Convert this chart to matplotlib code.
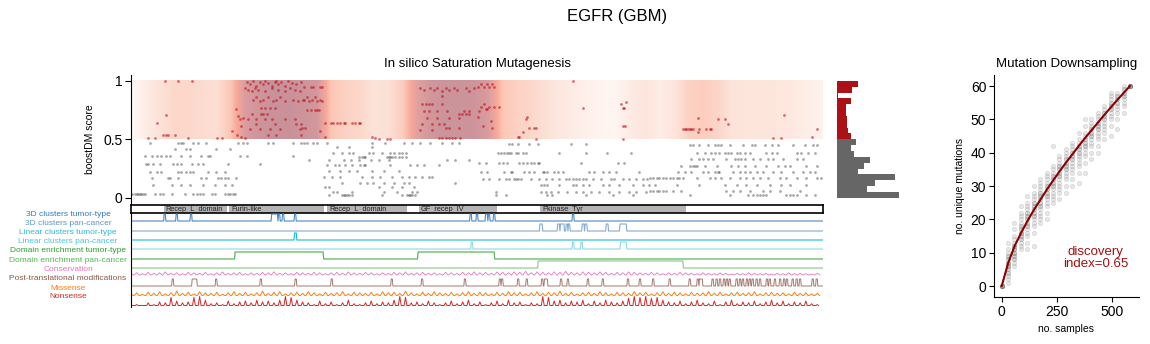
import numpy as np
import matplotlib
matplotlib.use("Agg")
import matplotlib.pyplot as plt
from matplotlib.colors import LinearSegmentedColormap

plt.rcParams['font.family'] = ['Liberation Sans', 'DejaVu Sans']

# ---------------- data ----------------
protein_len = 1210

# boostDM scores (score level, residues)
red_rows = [
    (1.0, [59, 82, 106, 214, 234, 254, 275, 772]),
    (0.99, [202, 225, 252, 263, 298]),
    (0.97, [208, 231, 257, 289]),
    (0.96, [219, 246, 269]),
    (0.98, [240, 281]),
    (0.95, [302, 314, 319, 331, 334, 606, 618, 626, 635]),
    (0.97, [612, 623, 632]),
    (0.94, [199, 217, 246, 278, 506, 523, 535, 550, 564, 585, 599]),
    (0.92, [205, 222, 257, 287, 512, 529, 556, 570]),
    (0.91, [212, 234, 269, 295, 544, 591]),
    (0.87, [544]),
    (0.86, [219, 240, 260, 308, 322]),
    (0.84, [214, 231, 254, 284, 301, 302, 316, 331]),
    (0.83, [225, 249, 269, 292, 311, 325, 334]),
    (0.82, [865]),
    (0.80, [509, 515, 521, 526, 544, 618, 857]),
    (0.78, [612, 626, 635, 644]),
    (0.77, [227, 234, 243, 252, 790, 860, 862]),
    (0.76, [184, 620, 623]),
    (0.75, [314, 325, 308, 322, 328]),
    (0.74, [512, 521, 535, 553, 582, 591, 609]),
    (0.72, [211, 228, 231, 237, 573, 579, 585, 591]),
    (0.71, [61, 1141]),
    (0.70, [187]),
    (0.69, [606, 693]),
    (0.68, [196, 518, 535, 556, 573, 992]),
    (0.67, [190, 205, 219, 234, 246, 269, 287, 690, 1027, 1038]),
    (0.66, [629]),
    (0.64, [45, 340, 349, 354, 360, 366, 372, 375, 386, 392, 398, 401]),
    (0.63, [219, 252, 289, 298, 509, 526, 538, 547, 1044]),
    (0.615, [193, 860, 864, 615]),
    (0.60, [305, 299, 550, 556, 573, 632, 696, 705, 708]),
    (0.59, [208, 225, 243, 260, 295, 965, 968, 971, 974, 977, 980, 983, 994, 1006, 1012, 1015, 1199]),
    (0.58, [506, 526]),
    (0.57, [177, 331]),
    (0.565, [992]),
    (0.56, [685]),
    (0.54, [240, 254, 298, 186]),
    (0.535, [56, 62, 65, 77]),
    (0.52, [193, 340, 421, 679, 676, 1190]),
    (0.515, [199, 538, 544, 550, 556, 561, 567, 576]),
    (0.51, [29, 42, 99, 151, 159, 427, 1123, 1136]),
    (0.50, [433, 448, 453, 708, 860]),
]

gray_rows = [
    (0.47, [33, 82, 88, 91, 109, 117, 132, 187, 196, 202, 240, 249, 284, 298, 302, 308, 319, 325, 343,
            421, 445, 477, 491, 506, 523, 544, 561, 573]),
    (0.46, [661, 667, 676, 696, 711, 769, 795]),
    (0.45, [977, 983, 994, 1009, 1021, 1027, 1032, 1047, 1070, 1085, 1091, 1108, 1120, 1131, 1158, 1178,
            1193, 1199]),
    (0.43, [360, 381, 421]),
    (0.42, [77, 97, 103, 149, 173]),
    (0.38, [354, 369, 381, 389, 416, 424, 439, 453, 459, 468, 474, 480, 641, 647, 653, 658, 661, 664, 673,
            676, 685, 690, 749, 795, 833, 874, 989, 1003, 1015, 1021, 1029, 1038, 1044, 1050, 1059, 1064,
            1073, 1082, 1111, 1120, 1129, 1164, 1172, 1184, 1196]),
    (0.36, [24, 36, 45, 53, 62, 68, 88, 103, 123, 135, 138, 190, 202, 284]),
    (0.35, [398, 404, 407, 410, 448, 451, 453, 456, 462, 468, 474, 480]),
    (0.33, [980, 994, 1000, 1009, 1018, 1041, 1056, 1061, 1067, 1073, 1088, 1099, 1114, 1123, 1140, 1164, 1175]),
    (0.32, [311, 346, 372, 384, 398, 419, 433, 451, 553, 567, 591]),
    (0.30, [609, 620, 644, 650, 658, 679, 685, 693, 699, 705, 711, 714, 787, 851, 862]),
    (0.29, [27, 30, 39, 50, 74, 80, 88, 106, 117, 126, 170, 225]),
    (0.28, [343, 357, 363, 375, 386, 401, 407, 410, 453, 488, 500, 512, 538]),
    (0.27, [962, 977, 983, 986, 989, 1003, 1024, 1050, 1061, 1073, 1091, 1111, 1131, 1143, 1152, 1181, 1199]),
    (0.23, [346, 366, 381, 395, 421, 442, 468]),
    (0.22, [33, 45, 52, 82, 88, 97, 103, 109, 135, 149, 164, 612, 623, 653, 664, 667, 688, 696, 705, 720,
            723, 728, 740, 746, 755, 801, 810, 825, 836, 848, 889, 957, 968, 980, 1000, 1009, 1021, 1027,
            1029, 1053, 1064, 1073, 1082, 1094, 1105, 1123, 1137, 1158, 1175, 1187, 1196]),
    (0.18, [337, 351, 366, 404, 421, 436, 456, 474, 486, 497, 509, 521, 526]),
    (0.17, [36, 65, 68, 82, 123, 132, 152, 158, 164, 170, 184, 907, 913, 919, 924, 930, 936, 942, 948, 954,
            959, 965, 989, 1012, 1021, 1032, 1047, 1064, 1076, 1088, 1099, 1114, 1134, 1146, 1164, 1181,
            1199, 1207]),
    (0.16, [615, 626, 644, 655, 661, 670, 673, 676, 682, 699, 714, 725, 737, 749, 760, 766, 772, 778, 784,
            790, 795, 807, 822, 839, 845, 860, 871, 883, 895, 903]),
    (0.13, [369, 401, 413, 424, 442, 459, 477, 486, 567]),
    (0.11, [39, 71, 88, 103, 126, 147, 164, 176, 717, 723, 728, 749, 772, 778, 790, 801, 825, 836, 854, 877,
            895, 906, 916, 954, 994, 1038, 1059, 1076, 1094, 1117, 1137, 1152, 1181]),
    (0.09, [340, 346, 433, 456, 474, 494]),
    (0.06, [907, 913, 919, 924, 930, 936, 948, 962, 1041, 1053, 1064, 1082, 1105, 1117, 1134, 1169]),
    (0.05, [638, 717, 725, 734, 746, 763, 778, 790, 804, 819, 836, 854, 871, 883, 900]),
    (0.045, [354, 360, 386, 442, 465, 491, 500]),
    (0.03, [2, 7, 10, 12, 15, 18, 21, 24, 42, 50, 56, 71, 94, 109, 115, 120, 126, 141, 147, 164, 170, 173,
            179, 182]),
    (0.02, [346, 369, 372, 375, 378, 381, 386, 439, 474, 483, 486, 488, 491, 497, 638, 655, 728, 737, 795,
            842, 877, 977, 1047, 1079, 1088, 1094, 1099, 1105, 1111, 1146, 1152, 1158, 1164, 1181, 1196]),
]

# background intensity of the driver-density shading (every 25 residues)
shade_profile = [0.05, 0.2, 0.3, 0.38, 0.38, 0.35, 0.33, 0.5, 0.85, 0.95, 1.0, 1.0, 0.97, 0.92, 0.5,
                 0.42, 0.38, 0.3, 0.32, 0.45, 0.78, 0.93, 0.98, 0.98, 0.96, 0.85, 0.5, 0.42, 0.38, 0.32,
                 0.25, 0.2, 0.15, 0.12, 0.12, 0.22, 0.28, 0.2, 0.28, 0.42, 0.45, 0.4, 0.3, 0.28, 0.28,
                 0.27, 0.25, 0.2, 0.15]

# histogram of scores (bins of 0.05 from 0 to 1)
hist_counts = [62, 30, 38, 58, 21, 27, 33, 17, 14, 19, 14, 11, 10, 10, 9, 9, 14, 1, 15, 21]

# Pfam domains
domain_names = ["Recep_L_domain", "Furin-like", "Recep_L_domain", "GF_recep_IV", "Pkinase_Tyr"]
domain_start = [57, 172, 343, 503, 716]
domain_end = [168, 338, 482, 640, 970]

# feature tracks
track_labels = ["3D clusters tumor-type", "3D clusters pan-cancer", "Linear clusters tumor-type",
                "Linear clusters pan-cancer", "Domain enrichment tumor-type", "Domain enrichment pan-cancer",
                "Conservation", "Post-translational modifications", "Missense", "Nonsense"]
label_colors = ["#2f7bbf", "#5b95c9", "#2fb9d2", "#4cc3d9", "#2ca02c", "#55b455",
                "#e377c2", "#8c564b", "#ff7f0e", "#d62728"]

clust3d_tumor = [(58, 60), (79, 81), (104, 106), (246, 256), (258, 260), (265, 267), (286, 288),
                 (593, 595), (604, 606), (620, 623), (625, 627), (634, 636), (772, 774)]
clust3d_pan = [(715, 719), (746, 749), (751, 753), (754, 757), (761, 763), (765, 767), (789, 792),
               (794, 797), (831, 834), (855, 866)]
linear_tumor = [(286, 289)]
linear_pan = [(595, 597), (772, 774), (787, 789), (856, 866)]
domain_tumor = [(182, 336), (502, 635)]
domain_pan = [(712, 965)]
ptm_sites = [73, 108, 111, 114, 149, 227, 288, 351, 456, 509, 584, 645, 649, 677, 692, 719, 724, 727, 752,
             764, 799, 825, 869, 890, 913, 942, 977, 991, 995, 998, 1017, 1024, 1030, 1037, 1042, 1047,
             1059, 1065, 1070, 1077, 1082, 1087, 1094, 1100, 1112, 1117, 1126, 1135, 1142, 1147, 1157,
             1164, 1170, 1192, 1199]

conservation = [0.4, 0.5, 0.3, 0.6, 0.4, 0.5, 0.7, 0.4, 0.5, 0.3, 0.6, 0.5, 0.4, 0.6, 0.3, 0.5, 0.7, 0.4, 0.5, 0.6,
                0.3, 0.5, 0.4, 0.6, 0.5, 0.7, 0.4, 0.5, 0.3, 0.6, 0.5, 0.4, 0.6, 0.5, 0.3, 0.5, 0.6, 0.4, 0.7, 0.5,
                0.4, 0.6, 0.5, 0.3, 0.5, 0.4, 0.6, 0.5, 0.7, 0.4, 0.5, 0.6, 0.4, 0.5, 0.3, 0.6, 0.5, 0.4, 0.6, 0.5,
                0.7, 0.5, 0.6, 0.4, 0.7, 0.6, 0.5, 0.7, 0.6, 0.8, 0.5, 0.7, 0.6, 0.5, 0.7, 0.6, 0.8, 0.6, 0.5, 0.7,
                0.6, 0.5, 0.7, 0.6, 0.4, 0.6, 0.5, 0.7, 0.6, 0.5, 0.4, 0.6, 0.5, 0.3, 0.5, 0.4, 0.6, 0.5, 0.4, 0.3,
                0.5, 0.4, 0.3, 0.5, 0.4, 0.2, 0.4, 0.3, 0.5, 0.4, 0.3, 0.4, 0.2, 0.4, 0.3, 0.5, 0.3, 0.4, 0.3, 0.2,
                0.4]
missense = [0.3, 0.5, 0.2, 0.6, 0.4, 0.7, 0.3, 0.5, 0.8, 0.4, 0.6, 0.3, 0.7, 0.5, 0.4, 0.6, 0.2, 0.5, 0.7, 0.4,
            0.6, 0.3, 0.5, 0.8, 0.4, 0.6, 0.7, 0.3, 0.5, 0.6, 0.4, 0.7, 0.5, 0.3, 0.6, 0.4, 0.5, 0.7, 0.3, 0.6,
            0.5, 0.4, 0.6, 0.3, 0.7, 0.5, 0.6, 0.4, 0.8, 0.5, 0.3, 0.6, 0.4, 0.7, 0.5, 0.4, 0.6, 0.3, 0.5, 0.7,
            0.4, 0.6, 0.5, 0.3, 0.6, 0.4, 0.7, 0.5, 0.6, 0.3, 0.5, 0.7, 0.4, 0.6, 0.5, 0.8, 0.4, 0.6, 0.3, 0.5,
            0.6, 0.4, 0.7, 0.5, 0.3, 0.6, 0.5, 0.4, 0.7, 0.5, 0.6, 0.3, 0.5, 0.7, 0.4, 0.6, 0.5, 0.3, 0.6, 0.4,
            0.5, 0.7, 0.4, 0.6, 0.3, 0.5, 0.6, 0.4, 0.5, 0.7, 0.3, 0.5, 0.6, 0.4, 0.5, 0.3, 0.6, 0.4, 0.5, 0.3,
            0.4]
nonsense = [0.05, 0.1, 0.0, 0.3, 0.1, 0.4, 0.3, 0.9, 0.5, 0.3, 0.4, 0.9, 1.0, 0.6, 0.2, 0.3, 0.1, 0.5, 0.2, 0.4,
            0.5, 0.3, 0.6, 0.4, 0.5, 0.3, 0.6, 1.0, 0.9, 0.6, 0.4, 0.3, 0.1, 0.5, 0.2, 0.4, 0.1, 0.3, 0.6, 0.2,
            0.1, 0.3, 0.5, 0.2, 0.4, 0.3, 0.6, 1.0, 0.9, 0.3, 0.4, 0.2, 0.5, 0.3, 0.1, 0.3, 0.5, 0.2, 0.4, 0.6,
            0.2, 0.4, 0.1, 0.3, 0.5, 0.2, 0.6, 0.3, 0.4, 0.1, 0.3, 0.2, 1.0, 0.9, 0.5, 0.6, 0.3, 0.5, 0.4, 0.6,
            0.2, 0.5, 0.3, 0.6, 0.4, 0.3, 0.5, 0.8, 1.0, 0.9, 1.0, 0.8, 0.9, 0.6, 0.4, 0.3, 0.5, 0.2, 0.4, 0.6,
            0.3, 0.2, 0.5, 0.1, 0.4, 0.6, 0.2, 0.4, 0.3, 0.5, 0.2, 0.4, 0.6, 0.3, 0.5, 0.2, 0.4, 0.3, 0.5, 0.2,
            0.1]

# mutation downsampling
ds_samples = [0, 29, 58, 87, 117, 146, 175, 204, 233, 262, 292, 321, 350, 379, 408, 437, 466, 496, 525, 554, 583]
ds_values = [
    [0, 0, 0, 0, 0, 0, 0, 0],
    [1, 2, 3, 4, 4, 5, 5, 6, 6, 6, 7, 7, 7, 8, 8, 9, 9, 10, 11, 13],
    [6, 7, 8, 8, 9, 9, 10, 10, 10, 11, 11, 11, 12, 12, 12, 13, 14, 15, 17, 19],
    [11, 12, 13, 14, 14, 15, 15, 16, 16, 16, 17, 17, 18, 18, 19, 20, 21, 22, 24],
    [11, 13, 15, 16, 17, 18, 18, 19, 19, 20, 20, 21, 21, 22, 22, 23, 24, 25, 27],
    [12, 16, 18, 19, 20, 21, 21, 22, 22, 23, 23, 24, 24, 25, 25, 26, 27, 28, 30],
    [19, 20, 21, 22, 23, 24, 24, 25, 25, 26, 26, 27, 27, 28, 28, 29, 30, 31, 32],
    [20, 22, 24, 25, 26, 27, 27, 28, 28, 29, 29, 30, 30, 31, 32, 33, 34],
    [25, 26, 27, 28, 29, 30, 30, 31, 31, 32, 32, 33, 33, 34, 35, 36, 42],
    [26, 28, 29, 30, 31, 32, 33, 33, 34, 34, 35, 35, 36, 36, 37, 38, 39],
    [28, 30, 32, 33, 34, 35, 35, 36, 36, 37, 37, 38, 38, 39, 40, 41],
    [30, 32, 34, 35, 36, 37, 38, 38, 39, 39, 40, 40, 41, 42, 43],
    [31, 34, 36, 37, 38, 39, 40, 40, 41, 41, 42, 42, 43, 44, 46],
    [34, 37, 39, 40, 41, 42, 42, 43, 43, 44, 44, 45, 46, 48, 50],
    [38, 40, 42, 43, 44, 45, 45, 46, 46, 47, 47, 48, 49, 50],
    [40, 42, 44, 45, 46, 47, 47, 48, 48, 49, 49, 50, 51, 52],
    [44, 46, 47, 48, 49, 50, 50, 51, 51, 52, 52, 53, 54],
    [45, 48, 50, 51, 52, 53, 53, 54, 54, 55, 55, 56, 57, 58],
    [47, 50, 52, 53, 54, 55, 55, 56, 56, 57, 57, 58],
    [52, 54, 55, 56, 57, 57, 58, 58, 59, 59, 60],
    [60, 60, 60, 60, 60, 60, 60, 60],
]
ds_curve = [0, 6.8, 11.9, 15.8, 19.5, 22.8, 25.8, 28.8, 31.6, 34.3, 37.0, 39.5, 42.0, 44.4, 46.7, 49.0,
            51.3, 53.6, 55.8, 57.9, 60]
discovery_index = 0.65

# ---------------- figure ----------------
W, H = 1150, 344
fig = plt.figure(figsize=(W / 100, H / 100), dpi=100)


def frame(x0, y0, x1, y1):
    return [x0 / W, 1 - y1 / H, (x1 - x0) / W, (y1 - y0) / H]


fig.text(617 / W, 1 - 17 / H, "EGFR (GBM)", ha="center", va="center", fontsize=12)

# main saturation mutagenesis panel
ax = fig.add_axes(frame(131, 75, 823, 203))
ylim = (-0.045, 1.05)
cmap = LinearSegmentedColormap.from_list(
    "shade", [(0.0, "#ffffff"), (0.3, "#fde3d9"), (0.5, "#fcc6b6"), (0.65, "#f7a898"),
              (0.8, "#e0a0a0"), (1.0, "#c9929a")])
prof = np.array(shade_profile)[np.newaxis, :]
ax.imshow(prof, extent=(-12.5, 25 * (len(shade_profile) - 1) + 12.5, 0.5, 1.0), aspect="auto",
          cmap=cmap, vmin=0, vmax=1, interpolation="bilinear", zorder=0)
red_x = [r for s, rs in red_rows for r in rs]
red_y = [s for s, rs in red_rows for r in rs]
gray_x = [r for s, rs in gray_rows for r in rs]
gray_y = [s for s, rs in gray_rows for r in rs]
ax.scatter(gray_x, gray_y, s=4, color="#555555", alpha=0.5, linewidths=0, zorder=2)
ax.scatter(red_x, red_y, s=4, color="#c0141e", alpha=0.6, linewidths=0, zorder=2)
ax.set_xlim(0, protein_len)
ax.set_ylim(*ylim)
ax.set_yticks([0, 0.5, 1])
ax.set_yticklabels(["0", "0.5", "1"])
ax.set_xticks([])
for sp in ["top", "right", "bottom"]:
    ax.spines[sp].set_visible(False)
ax.tick_params(axis="y", labelsize=10, length=4, width=0.8, pad=2)
ax.set_ylabel("boostDM score", fontsize=7.5, labelpad=6)
ax.set_title("In silico Saturation Mutagenesis", fontsize=9.5, pad=6)

# domain bar
ax_d = fig.add_axes(frame(131, 205, 823, 213))
for name, s0, s1 in zip(domain_names, domain_start, domain_end):
    ax_d.barh(0.5, s1 - s0, left=s0, height=1.0, color="#b4b4b4", linewidth=0)
    ax_d.text(s0 + 3, 0.45, name, fontsize=5.3, ha="left", va="center", color="#222222")
ax_d.set_xlim(0, protein_len)
ax_d.set_ylim(0, 1)
ax_d.set_xticks([])
ax_d.set_yticks([])
for sp in ax_d.spines.values():
    sp.set_linewidth(1.2)

# feature tracks (y in pixel-like units)
tk = fig.add_axes(frame(131, 213, 823, 307))
tk.set_xlim(0, protein_len)
tk.set_ylim(307, 213)
tk.set_xticks([])
tk.set_yticks([])
for sp in ["top", "right", "bottom"]:
    tk.spines[sp].set_visible(False)
tk.patch.set_alpha(0)

xs = np.arange(0, protein_len + 1)


def region_line(regions, base, amp):
    ind = np.zeros_like(xs, dtype=float)
    for a, b in regions:
        ind[(xs >= a) & (xs <= b)] = 1.0
    return base - amp * ind


def spike_line(vals, base, amp, step=10, hw=3.5):
    px, py = [], []
    for i, v in enumerate(vals):
        c = i * step
        px += [c - hw, c, c + hw]
        py += [base, base - amp * v, base]
    return px, py


tk.plot(xs, region_line(clust3d_tumor, 221, 7), color="#4a88c5", lw=0.8)
tk.plot(xs, region_line(clust3d_pan, 231, 7), color="#86abd3", lw=0.8)
tk.plot(xs, region_line(linear_tumor, 240, 7), color="#17becf", lw=0.8)
tk.plot(xs, region_line(linear_pan, 249, 7), color="#8fd8e3", lw=0.8)
tk.plot(xs, region_line(domain_tumor, 259, 7), color="#5db75d", lw=0.9)
tk.plot(xs, region_line(domain_pan, 268, 7), color="#94cf94", lw=0.9)
tk.plot(xs, region_line([(p - 1, p + 1) for p in ptm_sites], 286, 7), color="#8c564b", lw=0.7, alpha=0.8)

cx, cy = spike_line(conservation, 275, 4.5, hw=4.5)
tk.plot(cx, cy, color="#e377c2", lw=0.6)
mx, my = spike_line(missense, 295.5, 5.5, hw=4)
tk.plot(mx, my, color="#ff7f0e", lw=0.7)
nx, ny = spike_line(nonsense, 305.5, 9, hw=2.5)
tk.plot(nx, ny, color="#d62728", lw=0.7)

# track labels, centred in the left margin
label_y = [214, 223.5, 232.5, 241.5, 251, 260, 269.5, 279, 288, 297]
for lab, col, yy in zip(track_labels, label_colors, label_y):
    fig.text(68 / W, 1 - yy / H, lab, ha="center", va="center", fontsize=6.0, color=col)

# histogram
ah = fig.add_axes(frame(837, 75, 901, 203))
bin_lo = np.arange(20) * 0.05
bar_cols = ["#666666" if b < 0.5 else "#ab1116" for b in bin_lo]
ah.barh(bin_lo + 0.025, hist_counts, height=0.05, color=bar_cols, linewidth=0)
ah.set_ylim(*ylim)
ah.set_xlim(0, 64)
ah.axis("off")

# mutation downsampling
ar = fig.add_axes(frame(994, 75, 1139, 297))
for xv, vals in zip(ds_samples, ds_values):
    ar.scatter([xv] * len(vals), vals, s=10, color="#8a8a8a", alpha=0.2, linewidths=0.5,
               edgecolors="#6f6f6f", zorder=1)
ar.plot(ds_samples, ds_curve, color="#8b0000", lw=1.5, zorder=3)
ar.set_xlim(-35, 624)
ar.set_ylim(-3.3, 63.3)
ar.set_xticks([0, 250, 500])
ar.set_yticks([0, 10, 20, 30, 40, 50, 60])
ar.tick_params(labelsize=10, length=3.5, width=0.8, pad=2)
for sp in ["top", "right"]:
    ar.spines[sp].set_visible(False)
ar.set_xlabel("no. samples", fontsize=7.5, labelpad=4)
ar.set_ylabel("no. unique mutations", fontsize=7.5, labelpad=4)
ar.set_title("Mutation Downsampling", fontsize=9.5, pad=6)
ar.text(428, 8.5, f"discovery\nindex={discovery_index:.2f}", color="#a50f0f", fontsize=9.5,
        ha="center", va="center", linespacing=1.0)

fig.savefig("out.png", dpi=100)
